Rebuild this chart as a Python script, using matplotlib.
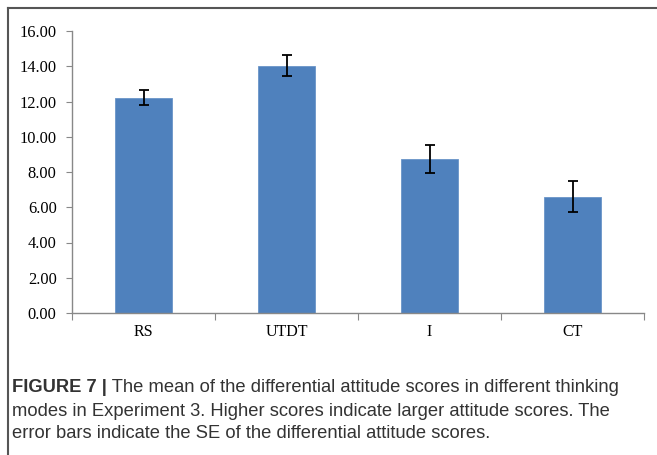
import matplotlib
matplotlib.use("Agg")
import matplotlib.pyplot as plt
from matplotlib.lines import Line2D

categories = ["RS", "UTDT", "I", "CT"]
means = [12.22, 14.04, 8.74, 6.60]
se = [0.43, 0.60, 0.78, 0.88]
yticks = [0, 2, 4, 6, 8, 10, 12, 14, 16]

cap_font = "Liberation Sans"

fig = plt.figure(figsize=(6.57, 4.55), dpi=100)
ax = fig.add_axes([72/657, 1-313/455, (644-72)/657, (313-31)/455])

x = range(len(categories))
ax.bar(x, means, width=0.4, color="#4F81BD", edgecolor="#6A94C8", linewidth=0.6, zorder=2)
ax.errorbar(x, means, yerr=se, fmt="none", ecolor="black", elinewidth=1.3, capsize=3.5, capthick=1.3, zorder=3)

ax.set_xlim(-0.5, 3.5)
ax.set_ylim(0, 16)
ax.set_yticks(yticks)
ax.set_yticklabels([f"{v:.2f}" for v in yticks], fontfamily="Liberation Serif", fontsize=11.8)
ax.set_xticks([-0.5, 0.5, 1.5, 2.5, 3.5])
ax.set_xticklabels([])
ax.set_xticks(list(x), minor=True)
ax.set_xticklabels(categories, minor=True, fontfamily="Liberation Serif", fontsize=11.5)
ax.tick_params(axis="x", which="major", length=5, color="#888888", direction="out")
ax.tick_params(axis="x", which="minor", length=0, pad=8)
ax.tick_params(axis="y", length=4, color="#888888", direction="out", pad=7)
for s in ["top", "right"]:
    ax.spines[s].set_visible(False)
for s in ["left", "bottom"]:
    ax.spines[s].set_color("#888888")
    ax.spines[s].set_linewidth(1.0)

# outer frame (left and top edges visible)
fig.add_artist(Line2D([8/657, 8/657], [0, 1-8/455], transform=fig.transFigure, color="#555555", lw=1.5))
fig.add_artist(Line2D([8/657, 1], [1-8/455, 1-8/455], transform=fig.transFigure, color="#555555", lw=1.5))

fs = 13.2
lines = [
    (" The mean of the differential attitude scores in different thinking", 388),
    ("modes in Experiment 3. Higher scores indicate larger attitude scores. The", 411),
    ("error bars indicate the SE of the differential attitude scores.", 433),
]
t0 = fig.text(12/657, 1-388/455, "FIGURE 7 |", fontfamily=cap_font, fontweight="bold",
              fontsize=fs, color="#333333", va="center")
fig.canvas.draw()
bb = t0.get_window_extent()
fig.text(bb.x1/657, 1-388/455, lines[0][0], fontfamily=cap_font, fontsize=fs, color="#333333", va="center")
for txt, yy in lines[1:]:
    fig.text(12/657, 1-yy/455, txt, fontfamily=cap_font, fontsize=fs, color="#333333", va="center")

fig.savefig("out.png", dpi=100)
